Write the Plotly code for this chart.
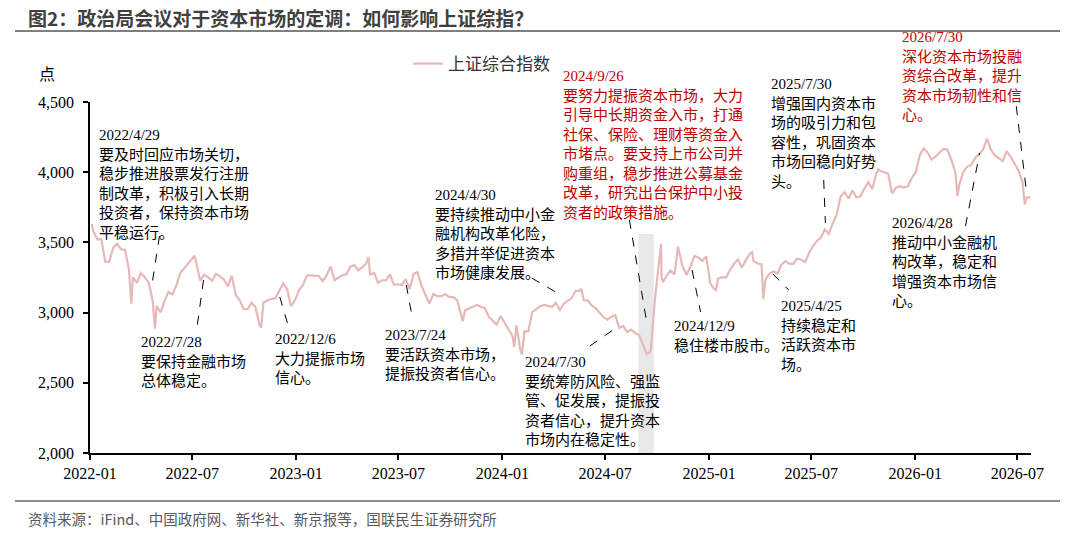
import pandas as pd
import plotly.graph_objects as go

# Shanghai Composite, weekly (Friday) closes
close_2022 = [3579, 3521, 3523, 3361, 3361, 3462, 3491, 3451, 3447, 3309, 3251, 3212,
              3282, 3252, 3211, 3087, 3047, 3001, 3084, 3146, 3130, 3195, 3285, 3316,
              3349, 3388, 3356, 3228, 3269, 3253, 3227, 3276, 3258, 3236, 3186, 3262,
              3126, 3088, 3024, 3024, 3071, 3038, 2915, 3070, 3087, 3097, 3101, 3156,
              3206, 3167, 3045, 3089]
close_2023 = [3158, 3195, 3265, 3265, 3263, 3261, 3224, 3267, 3328, 3230, 3250, 3265,
              3273, 3327, 3338, 3301, 3323, 3350, 3272, 3283, 3212, 3230, 3231, 3273,
              3198, 3202, 3197, 3237, 3168, 3276, 3288, 3189, 3131, 3064, 3133, 3117,
              3117, 3132, 3110, 3110, 3088, 2983, 3017, 3030, 3038, 3054, 3041, 3032,
              2970, 2942, 2915, 2975]
close_2024 = [2929, 2882, 2833, 2910, 2730, 2866, 2866, 3004, 3027, 3046, 3055, 3048,
              3041, 3069, 3019, 3065, 3088, 3105, 3155, 3155, 3089, 3087, 3051, 3033,
              2998, 2967, 2950, 2971, 2982, 2891, 2905, 2862, 2879, 2855, 2842, 2766,
              2704, 2736, 3088, 3336, 3217, 3261, 3300, 3272, 3452, 3331, 3268, 3326,
              3404, 3392, 3368, 3400]
close_2025 = [3211, 3168, 3241, 3252, 3250, 3303, 3346, 3379, 3320, 3372, 3419, 3364,
              3351, 3342, 3238, 3277, 3295, 3279, 3342, 3367, 3348, 3347, 3385, 3377,
              3360, 3424, 3473, 3510, 3534, 3593, 3560, 3635, 3697, 3826, 3858, 3812,
              3870, 3820, 3828, 3883, 3930, 3880, 3990, 4010, 4000, 3990, 3850, 3890,
              3900, 3890, 3900, 3960]
close_2026 = [4000, 4120, 4170, 4140, 4090, 4110, 4140, 4165, 4160, 4090, 4000, 3910,
              4000, 4040, 4050, 4100, 4130, 4160, 4240, 4160, 4120, 4100, 4080, 4150,
              4110, 4060, 4010, 3930, 3820, 3820]
first_fridays = ['2022-01-07', '2023-01-06', '2024-01-05', '2025-01-03', '2026-01-02']

# single trading days the weekly closes would miss
extra_dates = ['2022-01-04', '2022-03-15', '2022-04-26', '2022-07-05', '2022-10-31',
               '2023-05-09', '2023-10-23', '2024-01-22', '2024-02-05', '2024-05-20',
               '2024-09-18', '2024-10-08', '2024-10-09', '2024-11-07', '2025-01-13',
               '2025-03-18', '2025-04-07', '2025-10-28', '2026-03-17', '2026-07-14']
extra_values = [3632, 3064, 2886, 3405, 2893,
                3395, 2939, 2756, 2702, 3171,
                2717, 3489, 3258, 3471, 3160,
                3430, 3096, 4020, 3830, 3770]

# grey band: the September 2024 turn
band_start, band_end, band_top = '2024-08-29', '2024-09-25', 3560

parts = []
for start, vals in zip(first_fridays, [close_2022, close_2023, close_2024, close_2025, close_2026]):
    parts.append(pd.Series(vals, index=pd.date_range(start, periods=len(vals), freq='W-FRI')))
parts.append(pd.Series(extra_values, index=pd.to_datetime(extra_dates)))
index_series = pd.concat(parts).sort_index()

# politburo meeting notes
notes = [
    '2022/4/29<br>要及时回应市场关切，<br>稳步推进股票发行注册<br>制改革，积极引入长期<br>投资者，保持资本市场<br>平稳运行。',
    '2022/7/28<br>要保持金融市场<br>总体稳定。',
    '2022/12/6<br>大力提振市场<br>信心。',
    '2023/7/24<br>要活跃资本市场，<br>提振投资者信心。',
    '2024/4/30<br>要持续推动中小金<br>融机构改革化险，<br>多措并举促进资本<br>市场健康发展。',
    '2024/7/30<br>要统筹防风险、强监<br>管、促发展，提振投<br>资者信心，提升资本<br>市场内在稳定性。',
    '2024/9/26<br>要努力提振资本市场，大力<br>引导中长期资金入市，打通<br>社保、保险、理财等资金入<br>市堵点。要支持上市公司并<br>购重组，稳步推进公募基金<br>改革，研究出台保护中小投<br>资者的政策措施。',
    '2024/12/9<br>稳住楼市股市。',
    '2025/4/25<br>持续稳定和<br>活跃资本市<br>场。',
    '2025/7/30<br>增强国内资本市<br>场的吸引力和包<br>容性，巩固资本<br>市场回稳向好势<br>头。',
    '2026/4/28<br>推动中小金融机<br>构改革，稳定和<br>增强资本市场信<br>心。',
    '2026/7/30<br>深化资本市场投融<br>资综合改革，提升<br>资本市场韧性和信<br>心。',
]
red_notes = {6, 11}
# text block top-left corners, in pixels of the 1080x545 page
note_pos = [(97, 125), (139, 332), (273, 329), (383, 325), (433, 185), (523, 352),
            (561, 66), (672, 316), (779, 296), (769, 74), (890, 213), (900, 27)]
# dashed leaders: (date near text, value, date at the line, value)
leaders = [
    ('2022-05-04', 3546, '2022-04-20', 3182),
    ('2022-07-21', 3232, '2022-07-10', 2912),
    ('2022-12-03', 3111, '2022-12-17', 2919),
    ('2023-07-15', 3197, '2023-07-26', 2954),
    ('2024-02-22', 3246, '2024-04-17', 3118),
    ('2024-06-04', 2762, '2024-07-15', 2876),
    ('2024-08-13', 3660, '2024-09-12', 2947),
    ('2024-12-02', 3303, '2024-12-17', 3004),
    ('2025-04-24', 3275, '2025-05-22', 3161),
    ('2025-07-23', 3944, '2025-07-26', 3638),
    ('2026-03-31', 3617, '2026-04-25', 4137),
    ('2026-06-29', 4470, '2026-07-17', 3859),
]

W, H = 1080, 545
L, R, T, B = 90, 1031, 102, 453  # plot area on the page


def paper(x, y):
    return (x - L) / (R - L), (B - y) / (B - T)


serif_cjk = 'Liberation Serif, Noto Sans CJK SC'

fig = go.Figure()
fig.add_trace(go.Scatter(
    x=index_series.index, y=index_series.values,
    mode='lines', name='上证综合指数',
    line=dict(color='#E6B9B8', width=2.2),
))

shapes = [
    dict(type='rect', xref='x', yref='y', x0=band_start, x1=band_end, y0=2000, y1=band_top,
         fillcolor='#E8E8E8', line=dict(width=0), layer='below'),
]
for d0, v0, d1, v1 in leaders:
    shapes.append(dict(type='line', xref='x', yref='y', x0=d0, y0=v0, x1=d1, y1=v1,
                       line=dict(color='black', width=1, dash='dash')))
# title rule and footer rule
x0, y0 = paper(15, 31)
x1, _ = paper(1060, 31)
shapes.append(dict(type='line', xref='paper', yref='paper', x0=x0, x1=x1, y0=y0, y1=y0,
                   line=dict(color='#7F7F7F', width=2)))
_, yb = paper(0, 501)
shapes.append(dict(type='line', xref='paper', yref='paper', x0=x0, x1=x1, y0=yb, y1=yb,
                   line=dict(color='#8C8C8C', width=2)))

annotations = []
for i, (txt, (px, py)) in enumerate(zip(notes, note_pos)):
    ax, ay = paper(px, py)
    annotations.append(dict(
        text=txt, xref='paper', yref='paper', x=ax, y=ay, xanchor='left', yanchor='top',
        align='left', showarrow=False,
        font=dict(family=serif_cjk, size=15, color='#C00000' if i in red_notes else 'black'),
    ))
ux, uy = paper(47, 73)
annotations.append(dict(text='点', xref='paper', yref='paper', x=ux, y=uy, showarrow=False,
                        xanchor='center', yanchor='middle',
                        font=dict(family='Noto Sans CJK SC', size=16, color='black')))
sx, sy = paper(26, 518)
annotations.append(dict(text='资料来源：iFind、中国政府网、新华社、新京报等，国联民生证券研究所',
                        xref='paper', yref='paper', x=sx, y=sy, showarrow=False,
                        xanchor='left', yanchor='middle',
                        font=dict(family='Noto Sans CJK SC', size=14.5, color='#595959')))

lx, ly = paper(408, 64)
fig.update_layout(
    width=W, height=H,
    margin=dict(l=L, r=W - R, t=T, b=H - B, autoexpand=False),
    paper_bgcolor='white', plot_bgcolor='white',
    title=dict(text='<b>图2：政治局会议对于资本市场的定调：如何影响上证综指？</b>',
               xref='container', yref='container', x=28 / W, y=1 - 19 / H,
               xanchor='left', yanchor='middle',
               font=dict(family='Noto Sans CJK SC', size=19, color='#404040')),
    showlegend=True,
    legend=dict(x=lx, y=ly, xanchor='left', yanchor='middle', bgcolor='rgba(0,0,0,0)',
                font=dict(family='Noto Sans CJK SC', size=17, color='#333333')),
    xaxis=dict(
        type='date', range=['2022-01-01', '2026-07-25'],
        tick0='2022-01-01', dtick='M6', tickformat='%Y-%m',
        showgrid=False, zeroline=False,
        showline=True, linecolor='black', linewidth=1.5,
        ticks='outside', ticklen=5, tickcolor='black', tickwidth=1.5,
        tickfont=dict(family='Liberation Serif', size=16, color='black'),
    ),
    yaxis=dict(
        range=[2000, 4500], tickvals=[2000, 2500, 3000, 3500, 4000, 4500],
        tickformat=',', showgrid=False, zeroline=False,
        showline=True, linecolor='black', linewidth=1.5,
        ticks='outside', ticklen=5, tickcolor='black', tickwidth=1.5,
        ticklabelstandoff=6,
        tickfont=dict(family='Liberation Serif', size=16, color='black'),
    ),
    shapes=shapes,
    annotations=annotations,
)

# drop the browser's default 8px body margin so the figure fills the window
fig.write_html('out.html', config={'displayModeBar': False},
               post_script="document.body.style.margin = '0';")
